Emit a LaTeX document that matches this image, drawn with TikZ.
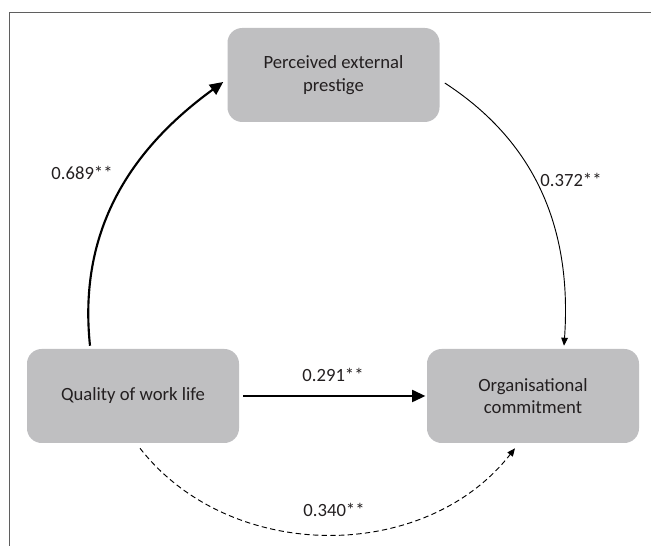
\documentclass[tikz,border=0pt]{standalone}
\usepackage{fontspec}
\setmainfont{Carlito}
\usepackage{tikz}
\usetikzlibrary{arrows.meta,positioning,calc}
\definecolor{BoxGray}{RGB}{191,191,193}
\definecolor{InkGray}{RGB}{35,31,32}
\definecolor{FrameGray}{RGB}{95,95,95}
\tikzset{
  construct/.style={rectangle,rounded corners=11pt,fill=BoxGray,draw=none,minimum width=159pt,minimum height=70.5pt,align=center,text=InkGray,font=\fontsize{14}{17}\selectfont},
  coef/.style={text=InkGray,font=\fontsize{14}{17}\selectfont,inner sep=0pt},
  strongpath/.style={-{Triangle[length=10pt,width=9pt]},line width=1.6pt,draw=black},
  weakpath/.style={-{Triangle[length=6pt,width=5pt]},line width=0.7pt,draw=black},
  indirectpath/.style={-{Triangle[length=6pt,width=5pt]},line width=0.7pt,draw=black,dash pattern=on 4pt off 2.5pt}
}
\begin{document}
\begin{tikzpicture}[x=0.75pt,y=0.75pt]
\useasboundingbox (0,0) rectangle (651,546);
% frame
\draw[FrameGray,line width=0.75pt] (9,0) -- (9,533) -- (651,533);

\node[construct] (pep) at (333.5,471) {Perceived external\\prestige};
\node[construct] (qwl) at (133,150) {Quality of work life};
\node[construct] (oc) at (533,150) {Organisational\\commitment};

\coordinate (qwlTop) at ($(qwl.north)+(-43,3)$);
\coordinate (pepIn) at ($(pep.west)+(-4,-7)$);
\coordinate (pepOut) at ($(pep.east)+(5,-8)$);
\coordinate (ocTop) at ($(oc.north)+(31,3)$);
\coordinate (qwlBot) at ($(qwl.south)+(7,-5)$);
\coordinate (ocBot) at ($(oc.south)+(-18,-5)$);

\draw[strongpath] (qwlTop) to[out=96,in=216] (pepIn);
\draw[weakpath] (pepOut) to[out=-33,in=86] (ocTop);
\draw[strongpath,shorten <=3pt,shorten >=1pt] (qwl) -- (oc);
\draw[indirectpath] (qwlBot) to[out=-52,in=232] (ocBot);

\node[coef] (b1) at (82,373) {0.689**};
\node[coef] (b2) at (571,366) {0.372**};
\node[coef] (b3) at (333,171) {0.291**};
\node[coef] (b4) at (334,36) {0.340**};
\end{tikzpicture}
\end{document}
